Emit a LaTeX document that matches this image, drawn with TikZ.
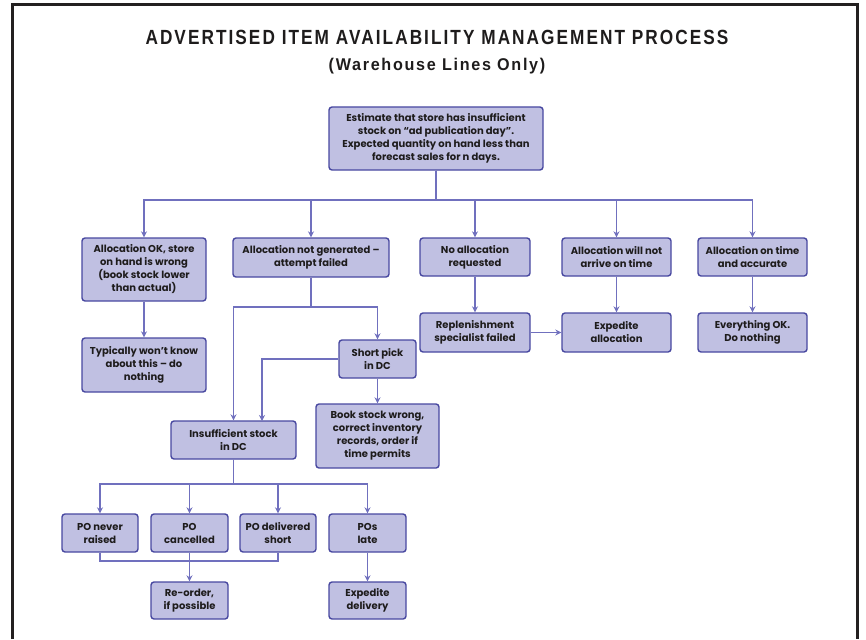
\documentclass[tikz,border=0pt]{standalone}
\usepackage{fontspec}
\setmainfont{Poppins}
\newfontfamily\titlefont[FakeStretch=0.84,LetterSpace=10]{Liberation Sans}
\newfontfamily\subfont[FakeStretch=0.95,LetterSpace=10]{Liberation Sans}
\usetikzlibrary{arrows.meta}
\definecolor{boxfill}{RGB}{192,192,226}
\definecolor{boxdraw}{RGB}{72,72,160}
\definecolor{linec}{RGB}{112,112,190}
\definecolor{framec}{RGB}{35,32,32}
\definecolor{textc}{RGB}{30,28,28}
\tikzset{
  box/.style={draw=boxdraw, fill=boxfill, rounded corners=3pt, line width=1.4pt,
    inner sep=0pt, align=center, text=textc, font=\bfseries\fontsize{10}{13}\selectfont},
  conn/.style={draw=linec, line width=1.5pt},
  arr/.style={conn, -{Stealth[length=6pt,width=6pt]}},
}
\begin{document}
\begin{tikzpicture}[x=1pt,y=-1pt]
\useasboundingbox (0,0) rectangle (866,639);
\draw[framec, line width=3pt] (12,639) -- (12,5) -- (857,5) -- (857,639);
\node[text=textc, font=\titlefont\bfseries\fontsize{20.5}{24}\selectfont] (title) at (437,37) {ADVERTISED ITEM AVAILABILITY MANAGEMENT PROCESS};
\node[text=textc, font=\subfont\bfseries\fontsize{17}{20}\selectfont] (sub) at (437,66) {(Warehouse Lines Only)};

\node[box, minimum width=214pt, minimum height=63pt] (top) at (436,138.5) {Estimate that store has insufficient\\ stock on “ad publication day”.\\ Expected quantity on hand less than\\ forecast sales for n days.};
\node[box, minimum width=124pt, minimum height=63pt] (a1) at (144,269.5) {Allocation OK, store\\ on hand is wrong\\ (book stock lower\\ than actual)};
\node[box, minimum width=156pt, minimum height=39pt] (a2) at (311,257.5) {Allocation not generated –\\ attempt failed};
\node[box, minimum width=110pt, minimum height=38pt] (a3) at (475,257) {No allocation\\ requested};
\node[box, minimum width=109pt, minimum height=38pt] (a4) at (616.5,257) {Allocation will not\\ arrive on time};
\node[box, minimum width=109pt, minimum height=38pt] (a5) at (752.5,257) {Allocation on time\\ and accurate};

\node[box, minimum width=124pt, minimum height=54pt] (b1) at (144,365) {Typically won’t know\\ about this – do\\ nothing};
\node[box, minimum width=110pt, minimum height=39pt] (b3) at (475,332.5) {Replenishment\\ specialist failed};
\node[box, minimum width=109pt, minimum height=39pt] (b4) at (616.5,332.5) {Expedite\\ allocation};
\node[box, minimum width=109pt, minimum height=39pt] (b5) at (752.5,332.5) {Everything OK.\\ Do nothing};

\node[box, minimum width=77pt, minimum height=38pt] (sp) at (377.5,359) {Short pick\\ in DC};
\node[box, minimum width=125pt, minimum height=38pt] (ins) at (233.5,440) {Insufficient stock\\ in DC};
\node[box, minimum width=123pt, minimum height=64pt] (bk) at (377.5,436) {Book stock wrong,\\ correct inventory\\ records, order if\\ time permits};

\node[box, minimum width=76pt, minimum height=38pt] (p1) at (100,533) {PO never\\ raised};
\node[box, minimum width=77pt, minimum height=38pt] (p2) at (189.5,533) {PO\\ cancelled};
\node[box, minimum width=76pt, minimum height=38pt] (p3) at (278,533) {PO delivered\\ short};
\node[box, minimum width=77pt, minimum height=38pt] (p4) at (367.5,533) {POs\\ late};
\node[box, minimum width=77pt, minimum height=37pt] (r) at (189.5,600.5) {Re-order,\\ if possible};
\node[box, minimum width=77pt, minimum height=37pt] (ed) at (367.5,600.5) {Expedite\\ delivery};

% connectors
\coordinate (bus1) at (436,200);
\foreach \n in {a1,a2,a3,a4,a5}{
  \draw[arr] (top.south) -- (top.south |- bus1) -| (\n.north);
}
\draw[arr] (a1) -- (b1);
\draw[arr] (a3) -- (b3);
\draw[arr] (a4) -- (b4);
\draw[arr] (a5) -- (b5);
\draw[arr] (b3) -- (b4);

\coordinate (bus2) at (311,307);
\draw[arr] (a2.south) -- (bus2) -| (sp.north);
\draw[arr] (a2.south) -- (bus2) -| (ins.north);
\coordinate (ins2) at (262,421);
\draw[arr] (sp.west) -| (ins2);
\draw[arr] (sp) -- (bk);

\coordinate (bus3) at (233.5,484);
\foreach \n in {p1,p2,p3,p4}{
  \draw[arr] (ins.south) -- (bus3) -| (\n.north);
}
\coordinate (bus4) at (189.5,561);
\draw[conn] (p1.south) |- (bus4) -| (p3.south);
\draw[arr] (p2) -- (r);
\draw[arr] (p4) -- (ed);
\end{tikzpicture}
\end{document}
